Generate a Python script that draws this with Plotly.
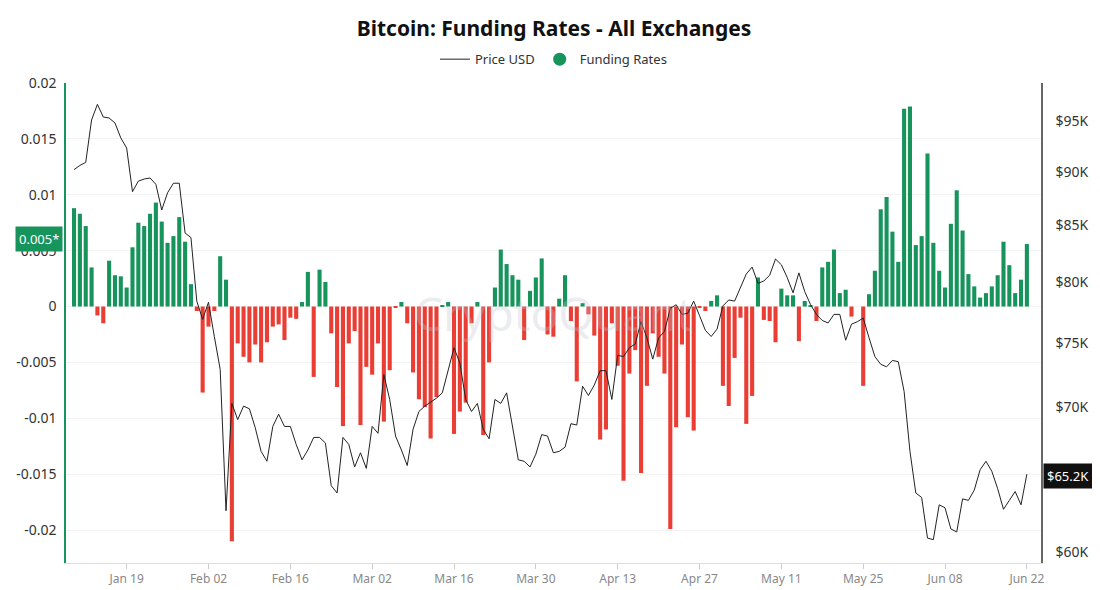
import math
import plotly.graph_objects as go
import pandas as pd

# daily data, Jan 10 - Jun 22 2026
start_date = '2026-01-10'

funding = [
    0.0088, 0.0083, 0.0072, 0.0035, -0.0008, -0.0015, 0.0041, 0.0028, 0.0027, 0.0017,
    0.0053, 0.0075, 0.0072, 0.0083, 0.0093, 0.0076, 0.0057, 0.0063, 0.0080, 0.0058,
    0.0020, -0.0004, -0.0077, -0.0018, -0.0004, 0.0045, 0.0024, -0.0210, -0.0033, -0.0045,
    -0.0050, -0.0034, -0.0050, -0.0032, -0.0018, -0.0016, -0.0030, -0.0010, -0.0011, 0.0004,
    0.0031, -0.0063, 0.0033, 0.0022, -0.0024, -0.0072, -0.0107, -0.0033, -0.0022, -0.0106,
    -0.0054, -0.0061, -0.0033, -0.0103, -0.0057, -0.0001, 0.0004, -0.0015, -0.0059, -0.0083,
    -0.0090, -0.0118, -0.0081, 0.0001, 0.0004, -0.0114, -0.0094, -0.0086, -0.0015, 0.0004,
    -0.0115, -0.0050, 0.0017, 0.0051, 0.0038, 0.0028, 0.0024, -0.0030, 0.0014, 0.0026,
    0.0043, -0.0025, -0.0027, 0.0007, 0.0028, -0.0013, -0.0067, 0.0003, -0.0007, -0.0026,
    -0.0119, -0.0110, -0.0015, -0.0053, -0.0156, -0.0060, -0.0039, -0.0149, -0.0071, -0.0024,
    -0.0045, -0.0060, -0.0199, -0.0108, -0.0034, -0.0099, -0.0111, -0.0001, -0.0004, 0.0005,
    0.0010, -0.0071, -0.0089, -0.0046, -0.0010, -0.0105, -0.0080, 0.0026, -0.0012, -0.0013,
    -0.0032, 0.0016, 0.0010, 0.0010, -0.0031, 0.0005, 0.0001, -0.0013, 0.0035, 0.0040,
    0.0051, 0.0012, 0.0015, -0.0009, 0.0000, -0.0071, 0.0011, 0.0032, 0.0087, 0.0098,
    0.0067, 0.0040, 0.0177, 0.0179, 0.0055, 0.0063, 0.0137, 0.0057, 0.0032, 0.0017,
    0.0074, 0.0104, 0.0068, 0.0029, 0.0018, 0.0008, 0.0012, 0.0018, 0.0028, 0.0058,
    0.0037, 0.0012, 0.0024, 0.0056,
]

price_k = [
    90.2, 90.6, 90.9, 95.1, 96.7, 95.4, 95.3, 94.8, 93.3, 92.3,
    88.1, 89.1, 89.3, 89.4, 88.8, 86.4, 88.0, 88.9, 88.9, 84.3,
    83.9, 78.4, 76.9, 78.3, 75.5, 72.9, 62.7, 70.3, 69.1, 70.1,
    69.9, 68.5, 66.8, 66.1, 68.6, 69.5, 68.6, 68.6, 67.3, 66.2,
    66.9, 67.8, 67.8, 67.4, 64.4, 63.9, 67.8, 67.3, 65.7, 66.7,
    65.6, 68.6, 68.1, 72.5, 70.6, 67.9, 66.9, 65.8, 68.4, 69.7,
    70.1, 70.4, 70.7, 71.1, 72.9, 74.6, 73.4, 70.6, 69.7, 70.3,
    68.4, 67.7, 70.6, 70.3, 71.1, 68.6, 66.2, 66.1, 65.7, 66.6,
    68.0, 67.9, 66.7, 66.8, 67.1, 68.8, 68.7, 71.6, 70.9, 71.7,
    72.8, 72.8, 70.6, 74.0, 73.9, 74.6, 74.9, 76.7, 75.4, 73.7,
    75.4, 75.9, 77.8, 78.1, 77.3, 77.4, 78.4, 77.2, 76.0, 75.5,
    76.1, 78.0, 78.5, 78.4, 79.5, 80.7, 81.3, 79.9, 80.1, 80.6,
    82.0, 81.5, 80.4, 79.1, 80.8, 79.2, 78.1, 77.3, 76.8, 76.6,
    77.3, 77.3, 75.2, 76.5, 76.7, 77.0, 75.4, 73.9, 73.3, 73.1,
    73.6, 73.5, 71.2, 66.8, 63.9, 63.6, 60.9, 60.8, 63.1, 62.9,
    61.5, 61.3, 63.5, 63.4, 64.1, 65.5, 66.1, 65.4, 64.2, 62.8,
    63.4, 64.0, 63.1, 65.2,
]

x_tick_dates = ['2026-01-19', '2026-02-02', '2026-02-16', '2026-03-02', '2026-03-16', '2026-03-30',
                '2026-04-13', '2026-04-27', '2026-05-11', '2026-05-25', '2026-06-08', '2026-06-22']
x_tick_text = ['Jan 19', 'Feb 02', 'Feb 16', 'Mar 02', 'Mar 16', 'Mar 30',
               'Apr 13', 'Apr 27', 'May 11', 'May 25', 'Jun 08', 'Jun 22']
left_ticks = [0.02, 0.015, 0.01, 0.005, 0, -0.005, -0.01, -0.015, -0.02]
left_text = ['0.02', '0.015', '0.01', '0.005', '0', '-0.005', '-0.01', '-0.015', '-0.02']
right_ticks = [60000, 65000, 70000, 75000, 80000, 85000, 90000, 95000]
right_text = ['$60K', '$65K', '$70K', '$75K', '$80K', '$85K', '$90K', '$95K']

GREEN = '#17935c'
RED = '#ea3d33'
FONT = 'Noto Sans'

dates = pd.date_range(start_date, periods=len(funding), freq='D')
price = [p * 1000 for p in price_k]
bar_colors = [GREEN if v >= 0 else RED for v in funding]

fig = go.Figure()
fig.add_trace(go.Bar(x=dates, y=funding, marker_color=bar_colors, marker_line_width=0,
                     name='Funding Rates', showlegend=False, yaxis='y'))
fig.add_trace(go.Scatter(x=dates, y=price, mode='lines', line=dict(color='#222', width=1),
                         name='Price USD', yaxis='y2'))
# legend entry with round marker
fig.add_trace(go.Scatter(x=[None], y=[None], mode='markers',
                         marker=dict(color=GREEN, size=13, symbol='circle'),
                         name='Funding Rates'))

# the page body has an 8px margin, so the figure is sized/offset to fit the window
fig.update_layout(
    width=1092, height=582,
    margin=dict(l=58, r=59, t=75, b=27),
    paper_bgcolor='white', plot_bgcolor='white',
    font=dict(family=FONT, color='#333'),
    title=dict(text='<b>Bitcoin: Funding Rates - All Exchanges</b>', x=0.5, xanchor='center',
               yref='container', y=0.964, yanchor='middle', font=dict(size=21, color='#111')),
    legend=dict(orientation='h', x=0.5, xanchor='center', yref='container', y=0.912, yanchor='middle',
                font=dict(size=13, color='#333'), bgcolor='rgba(0,0,0,0)',
                traceorder='normal', itemwidth=30),
    bargap=0.3,
    showlegend=True,
    xaxis=dict(type='date', range=['2026-01-08 15:00', '2026-06-24 10:00'],
               tickvals=x_tick_dates, ticktext=x_tick_text, automargin=False,
               showgrid=False, showline=True, linecolor='#ddd', linewidth=1,
               ticks='outside', ticklen=5, tickcolor='#ccc',
               tickfont=dict(size=12, color='#888')),
    yaxis=dict(range=[-0.02295, 0.02], tickvals=left_ticks, ticktext=left_text,
               showgrid=True, gridcolor='#f3f3f3', zeroline=False, automargin=False,
               showline=True, linecolor=GREEN, linewidth=1.5,
               ticks='', tickfont=dict(size=14, color='#333'), ticklabelstandoff=5),
    yaxis2=dict(type='log', overlaying='y', side='right', range=[4.7731, 4.9953],
                tickvals=right_ticks, ticktext=right_text, showgrid=False, zeroline=False,
                showline=True, linecolor='#666', linewidth=1.5, automargin=False,
                tickfont=dict(size=14, color='#333'), ticklabelstandoff=10),
)

# watermark
fig.add_annotation(text='CryptoQuant', xref='paper', yref='paper', x=0.5, y=0.52,
                   showarrow=False, font=dict(size=46, color='rgba(190,195,205,0.32)', family=FONT))

# last value badges
fig.add_annotation(text='0.005*', xref='paper', yref='y', x=-0.003, y=funding[-1], yshift=5,
                   xanchor='right', yanchor='middle', showarrow=False,
                   bgcolor=GREEN, borderpad=3, font=dict(size=13, color='white'))
fig.add_annotation(text='$65.2K', xref='paper', yref='y2', x=1.002, y=math.log10(price[-1]), yshift=-2,
                   xanchor='left', yanchor='middle', showarrow=False,
                   bgcolor='#111', borderpad=3, font=dict(size=13, color='white'))

fig.write_html('out.html')
